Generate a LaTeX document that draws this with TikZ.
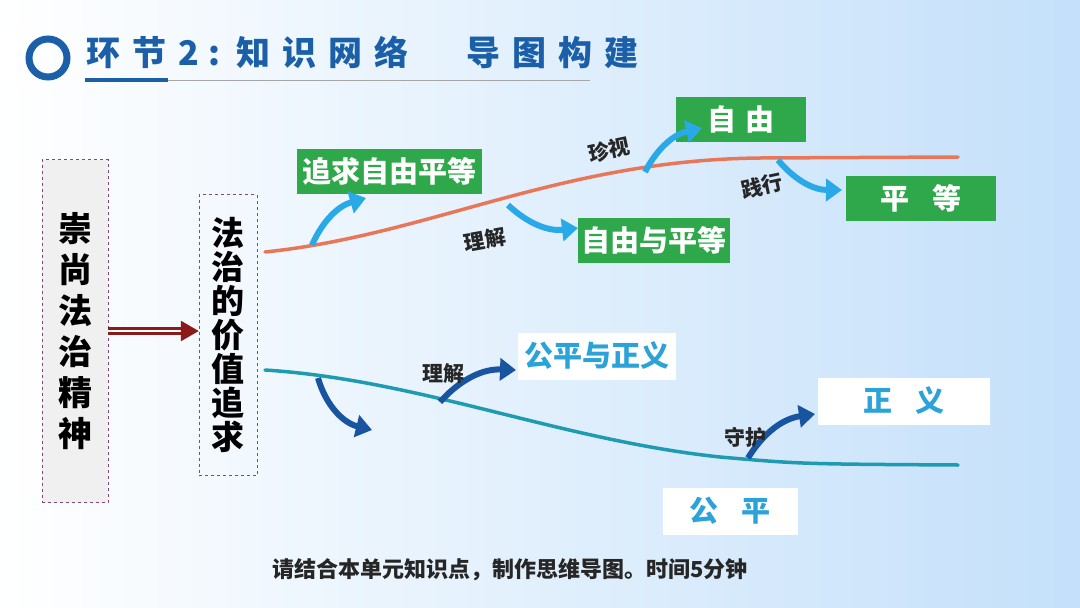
\documentclass[tikz,border=0pt]{standalone}
\usepackage{fontspec}
\setmainfont{Noto Sans CJK SC}
\usetikzlibrary{arrows.meta}
\definecolor{tblue}{RGB}{26,95,168}
\definecolor{gbox}{RGB}{46,168,74}
\definecolor{cyantxt}{RGB}{43,163,216}
\definecolor{fatl}{RGB}{41,169,232}
\definecolor{fatd}{RGB}{24,84,160}
\definecolor{orangec}{RGB}{232,119,90}
\definecolor{tealc}{RGB}{30,155,176}
\definecolor{purp}{RGB}{130,70,130}
\definecolor{dred}{RGB}{139,26,26}
\tikzset{
 fs/.style={font=\fontsize{#1}{#1}\selectfont\bfseries},
 gnode/.style={fill=gbox,text=white,fs=29,minimum height=45pt,inner sep=0pt},
 wnode/.style={fill=white,text=cyantxt,fs=29,minimum height=47pt,inner sep=0pt},
 lab/.style={fs=21,text=black!85},
 fatA/.style={line width=6pt,draw=fatl,-{Triangle[length=16pt,width=22pt]}},
 fatB/.style={line width=6pt,draw=fatd,-{Triangle[length=16pt,width=22pt]}},
}
\begin{document}
\begin{tikzpicture}[x=1pt,y=-1pt]
\useasboundingbox (0,0) rectangle (1080,608);
\shade[left color=white,right color={rgb,255:red,196;green,224;blue,250}] (0,0) rectangle (1080,608);
% title
\draw[line width=7pt,draw=tblue] (48,58) circle (19);
\node[anchor=west,text=tblue,fs=34,inner sep=0pt] (title) at (86,52) {环\hspace{12pt}节\hspace{12pt}2\hspace{10pt}:\hspace{16pt}知\hspace{12pt}识\hspace{12pt}网\hspace{12pt}络\hspace{58pt}导\hspace{12pt}图\hspace{12pt}构\hspace{12pt}建};
\draw[line width=1pt,draw=black!35] (168,80) -- (590,80);
\draw[line width=4pt,draw=tblue] (85,80) -- (168,80);
% left boxes
\node[draw=purp,dashed,fill=black!6,minimum width=66pt,minimum height=343pt,inner sep=0pt] (b1) at (75,331) {};
\node[fs=34,align=center,text=black] at (b1) {崇\\[7pt]尚\\[7pt]法\\[7pt]治\\[7pt]精\\[7pt]神};
\node[draw=purp,dashed,minimum width=58pt,minimum height=281pt,inner sep=0pt] (b2) at (228,335) {};
\node[fs=33,align=center,text=black] at (b2) {法\\[1pt]治\\[1pt]的\\[1pt]价\\[1pt]值\\[1pt]追\\[1pt]求};
\draw[dred,double=white,double distance=2.5pt,line width=2.5pt,-{Triangle[length=18pt,width=20pt,fill=dred]}] (b1.east) -- (b1.east -| b2.west);
% curves
\coordinate (o0) at (265,252); \coordinate (o1) at (958,157);
\draw[orangec,line width=3.5pt,line cap=round] (o0) .. controls (430,235) and (560,160) .. (760,158) -- (o1);
\coordinate (t0) at (265,370); \coordinate (t1) at (958,465);
\draw[tealc,line width=3.5pt,line cap=round] (t0) .. controls (420,380) and (560,440) .. (720,457) .. controls (800,464) .. (t1);
% boxes
\node[gnode,minimum width=185pt] (n1) at (389,171) {追求自由平等};
\node[gnode,minimum width=130pt] (n2) at (741,119) {自\hspace{10pt}由};
\node[gnode,minimum width=152pt] (n3) at (654,240) {自由与平等};
\node[gnode,minimum width=150pt] (n4) at (921,198) {平\hspace{24pt}等};
\node[wnode,minimum width=158pt] (w1) at (597,356) {公平与正义};
\node[wnode,minimum width=172pt] (w2) at (904,401) {正\hspace{24pt}义};
\node[wnode,minimum width=135pt] (w3) at (730,511) {公\hspace{24pt}平};
% fat arrows
\coordinate (a1) at (312,245); \coordinate (a1e) at (366,198);
\coordinate (a2) at (645,172); \coordinate (a2e) at (702,128);
\coordinate (a3) at (508,205); \coordinate (a3e) at (578,228);
\coordinate (a4) at (778,160); \coordinate (a4e) at (842,190);
\draw[fatA] (a1) to[bend left=25] (a1e);
\draw[fatA] (a2) to[bend left=25] (a2e);
\draw[fatA] (a3) to[bend right=25] (a3e);
\draw[fatA] (a4) to[bend right=25] (a4e);
\coordinate (d1) at (318,378); \coordinate (d1e) at (372,430);
\coordinate (d2) at (440,402); \coordinate (d2e) at (516,370);
\coordinate (d3) at (748,458); \coordinate (d3e) at (815,414);
\draw[fatB] (d1) to[bend right=30] (d1e);
\draw[fatB] (d2) to[bend left=25] (d2e);
\draw[fatB] (d3) to[bend left=25] (d3e);
% labels
\node[lab,rotate=12] (l1) at (609,150) {珍视};
\node[lab,rotate=12] (l2) at (762,186) {践行};
\node[lab,rotate=10] (l3) at (485,240) {理解};
\node[lab] (l4) at (443,374) {理解};
\node[lab] (l5) at (745,437) {守护};
\node[fs=22,text=black!85] (foot) at (510,570) {请结合本单元知识点，制作思维导图。时间5分钟};
\end{tikzpicture}
\end{document}
